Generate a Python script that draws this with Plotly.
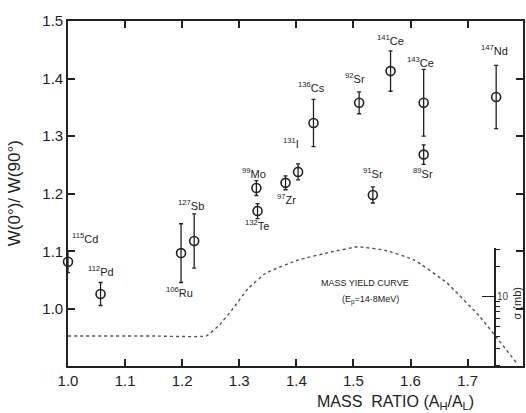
import plotly.graph_objects as go

# ---- data ----
isotopes = ["<sup>115</sup>Cd", "<sup>112</sup>Pd", "<sup>106</sup>Ru", "<sup>127</sup>Sb",
            "<sup>99</sup>Mo", "<sup>132</sup>Te", "<sup>97</sup>Zr", "<sup>131</sup>I",
            "<sup>136</sup>Cs", "<sup>92</sup>Sr", "<sup>91</sup>Sr", "<sup>141</sup>Ce",
            "<sup>143</sup>Ce", "<sup>89</sup>Sr", "<sup>147</sup>Nd"]
mass_ratio = [1.0, 1.057, 1.198, 1.221, 1.330, 1.332, 1.381, 1.403, 1.430,
              1.510, 1.534, 1.565, 1.623, 1.623, 1.750]
w_ratio = [1.082, 1.026, 1.097, 1.118, 1.210, 1.170, 1.219, 1.238, 1.323,
           1.358, 1.198, 1.413, 1.358, 1.268, 1.368]
w_err = [0.019, 0.020, 0.051, 0.047, 0.013, 0.013, 0.012, 0.014, 0.041,
         0.019, 0.014, 0.035, 0.058, 0.017, 0.055]

# label offsets (pixels) relative to each point
label_dx = [17, 0, -2, -3, -2, -1, 1, -7, -2, -4, 0, 0, -3, -1, -2]
label_dy = [24, 23, -39, 36, 15, -14, -16, 29, 36, 25, 22, 31, 41, -18, 47]

# mass yield curve
yield_x = [1.0, 1.15, 1.242, 1.265, 1.287, 1.315, 1.346, 1.403, 1.461, 1.508,
           1.555, 1.607, 1.664, 1.722, 1.786]
yield_y = [0.953, 0.953, 0.953, 0.972, 0.998, 1.035, 1.062, 1.085, 1.099, 1.108,
           1.102, 1.085, 1.045, 0.986, 0.906]

x_ticks = [1.0, 1.1, 1.2, 1.3, 1.4, 1.5, 1.6, 1.7]
y_ticks = [1.0, 1.1, 1.2, 1.3, 1.4, 1.5]

INK = "#222222"
FONT = "Liberation Sans, Arial, sans-serif"

fig = go.Figure()

fig.add_trace(go.Scatter(
    x=yield_x, y=yield_y, mode="lines",
    line=dict(color="#555555", width=1.4, dash="3px,3px", shape="spline", smoothing=0.3),
    hoverinfo="skip", showlegend=False, cliponaxis=True))

fig.add_trace(go.Scatter(
    x=mass_ratio, y=w_ratio, mode="markers",
    marker=dict(symbol="circle-open", size=9, color=INK, line=dict(width=1.6, color=INK)),
    error_y=dict(type="data", array=w_err, visible=True, color=INK, thickness=1.3, width=2),
    showlegend=False, cliponaxis=False))

# invisible trace on the inner log (cross-section) axis so that axis is drawn
fig.add_trace(go.Scatter(x=[1.75], y=[5], mode="markers", marker=dict(opacity=0),
                         xaxis="x2", yaxis="y2", showlegend=False, hoverinfo="skip"))

for name, x, y, dx, dy in zip(isotopes, mass_ratio, w_ratio, label_dx, label_dy):
    fig.add_annotation(x=x, y=y, text=name, showarrow=False, xshift=dx, yshift=dy,
                       font=dict(size=11, color=INK, family=FONT))

fig.add_annotation(x=1.52, y=1.045, text="MASS YIELD CURVE", showarrow=False,
                   font=dict(size=9, color=INK, family=FONT))
fig.add_annotation(x=1.53, y=1.015, text="(E<sub>p</sub>=14·8MeV)", showarrow=False,
                   font=dict(size=9, color=INK, family=FONT))

fig.add_annotation(xref="paper", yref="paper", x=0.986, y=0.18, text="σ (mb)",
                   textangle=-90, showarrow=False, xanchor="center", yanchor="middle",
                   font=dict(size=11, color=INK, family=FONT))

fig.add_annotation(xref="paper", yref="paper", x=-0.117, y=0.5,
                   text="W(0°)/ W(90°)", textangle=-90, showarrow=False,
                   xanchor="center", yanchor="middle",
                   font=dict(size=17, color=INK, family=FONT))
fig.add_annotation(xref="paper", yref="paper", x=0.72, y=-0.107, yanchor="middle",
                   xanchor="center",
                   text="MASS  RATIO (A<sub>H</sub>/A<sub>L</sub>)", showarrow=False,
                   font=dict(size=16, color=INK, family=FONT))

fig.update_layout(
    width=526, height=413,
    margin=dict(l=68, r=1, t=21, b=47),
    paper_bgcolor="white", plot_bgcolor="rgba(0,0,0,0)",
    font=dict(family=FONT, color=INK),
    xaxis=dict(range=[1.0, 1.797], tickvals=x_ticks, ticktext=[f"{v:.1f}" for v in x_ticks],
               ticks="inside", ticklen=7, tickwidth=1.5, tickcolor=INK,
               showline=True, linecolor=INK, linewidth=1.6, mirror="ticks",
               showgrid=False, zeroline=False, tickfont=dict(size=15)),
    yaxis=dict(range=[0.901, 1.5], tickvals=y_ticks, ticktext=[f"{v:.1f}" for v in y_ticks],
               ticks="inside", ticklen=7, tickwidth=1.5, tickcolor=INK,
               showline=True, linecolor=INK, linewidth=1.6, mirror="ticks",
               showgrid=False, zeroline=False, tickfont=dict(size=15)),
    xaxis2=dict(range=[1.0, 1.797], visible=False, anchor="y2", overlaying="x"),
    yaxis2=dict(type="log", range=[0.30, 1.49], domain=[0, 0.342], anchor="free",
                position=0.939, side="left", showline=True, linecolor=INK, linewidth=1.5,
                tickvals=[10], ticktext=["10"], ticks="outside", ticklen=12, tickwidth=1.3,
                tickcolor=INK, ticklabelposition="inside", tickfont=dict(size=10),
                showgrid=False, zeroline=False,
                minor=dict(tickvals=[2, 3, 4, 5, 6, 7, 8, 9, 20, 30], ticks="inside",
                           ticklen=4, tickcolor=INK, showgrid=False)),
)

fig.write_html("out.html")
